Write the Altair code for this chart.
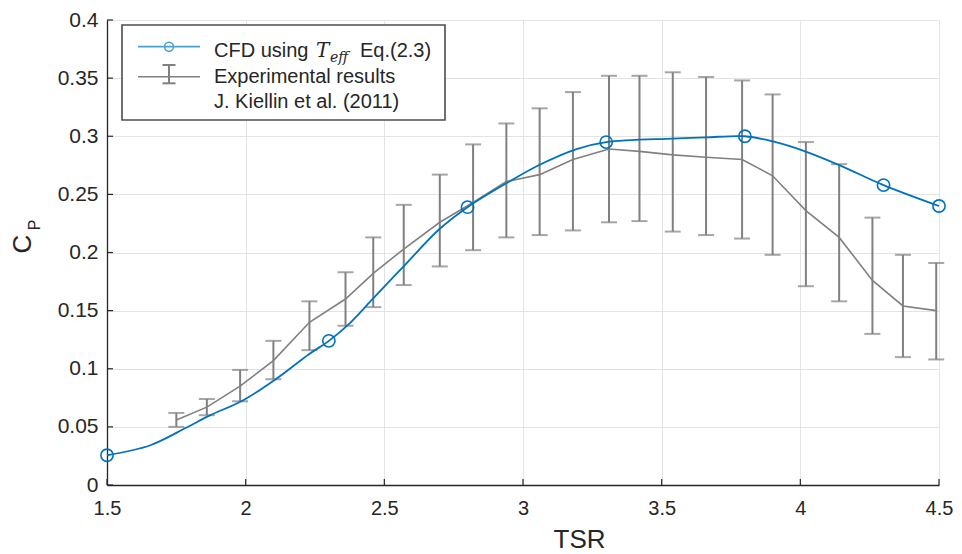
import altair as alt
import pandas as pd

# ---- data ----
cfd_tsr = [1.5, 1.654, 1.785, 1.869, 1.988, 2.108, 2.227, 2.3, 2.376, 2.454, 2.573,
           2.698, 2.8, 2.943, 3.062, 3.193, 3.3, 3.54, 3.659, 3.8, 3.898, 4.017,
           4.142, 4.3, 4.5]
cfd_cp = [0.0256, 0.0340, 0.0492, 0.0597, 0.0725, 0.091, 0.1123, 0.124, 0.1393,
          0.159, 0.189, 0.220, 0.239, 0.260, 0.2757, 0.289, 0.295, 0.298, 0.299,
          0.300, 0.2957, 0.287, 0.275, 0.258, 0.240]
marker_tsr = [1.5, 2.3, 2.8, 3.3, 3.8, 4.3, 4.5]
marker_cp = [0.0256, 0.124, 0.239, 0.295, 0.300, 0.258, 0.240]

exp_tsr = [1.75, 1.86, 1.98, 2.10, 2.23, 2.36, 2.46, 2.57, 2.70, 2.82, 2.94, 3.06,
           3.18, 3.31, 3.42, 3.54, 3.66, 3.79, 3.90, 4.02, 4.14, 4.26, 4.37, 4.49]
exp_cp = [0.056, 0.067, 0.085, 0.107, 0.140, 0.160, 0.182, 0.203, 0.226, 0.243,
          0.261, 0.267, 0.280, 0.289, 0.287, 0.284, 0.282, 0.280, 0.266, 0.236,
          0.213, 0.176, 0.154, 0.150]
exp_lo = [0.050, 0.060, 0.072, 0.091, 0.116, 0.137, 0.153, 0.172, 0.188, 0.202,
          0.213, 0.215, 0.219, 0.226, 0.227, 0.218, 0.215, 0.212, 0.198, 0.171,
          0.158, 0.130, 0.110, 0.108]
exp_hi = [0.062, 0.074, 0.099, 0.124, 0.158, 0.183, 0.213, 0.241, 0.267, 0.293,
          0.311, 0.324, 0.338, 0.352, 0.352, 0.355, 0.351, 0.348, 0.336, 0.295,
          0.276, 0.230, 0.198, 0.191]

x_ticks = [1.5, 2, 2.5, 3, 3.5, 4, 4.5]
y_ticks = [0, 0.05, 0.1, 0.15, 0.2, 0.25, 0.3, 0.35, 0.4]

legend_cfd = "CFD using"
legend_T = "T"
legend_eff = "eff"
legend_eq = "Eq.(2.3)"
legend_exp1 = "Experimental results"
legend_exp2 = "J. Kiellin et al. (2011)"

# ---- styling ----
W, H = 832, 465
BLUE = "#0072BD"
GRAY = "#808080"
DARK = "#262626"
FONT = "Liberation Sans"

cfd_df = pd.DataFrame({"tsr": cfd_tsr, "cp": cfd_cp})
mk_df = pd.DataFrame({"tsr": marker_tsr, "cp": marker_cp})
exp_df = pd.DataFrame({"tsr": exp_tsr, "cp": exp_cp, "lo": exp_lo, "hi": exp_hi})
xt_df = pd.DataFrame({"v": x_ticks})
yt_df = pd.DataFrame({"v": y_ticks})
one = pd.DataFrame({"a": [0]})

xs = alt.Scale(domain=[1.5, 4.5], nice=False, zero=False)
ys = alt.Scale(domain=[0, 0.4], nice=False, zero=True)

x_axis = alt.Axis(values=x_ticks, format=".1~f", title="TSR", ticks=False,
                  grid=True, labelPadding=13, labelFlush=False, labelFontSize=20,
                  titleX=472, titleY=62,
                  titleAnchor="start", titleAlign="center", titleBaseline="alphabetic")
y_axis = alt.Axis(values=y_ticks, format=".2~f", title=None, ticks=False,
                  grid=True, labelPadding=9, labelFlush=False, labelFontSize=21)

exp_line = alt.Chart(exp_df).mark_line(color=GRAY, strokeWidth=1.6).encode(
    x=alt.X("tsr:Q", scale=xs, axis=x_axis),
    y=alt.Y("cp:Q", scale=ys, axis=y_axis),
)
err_rule = alt.Chart(exp_df).mark_rule(color=GRAY, strokeWidth=2).encode(
    x=alt.X("tsr:Q", scale=xs), y=alt.Y("lo:Q", scale=ys), y2="hi:Q")
cap_lo = alt.Chart(exp_df).mark_tick(color=GRAY, size=16, thickness=2,
                                     orient="horizontal").encode(
    x=alt.X("tsr:Q", scale=xs), y=alt.Y("lo:Q", scale=ys))
cap_hi = alt.Chart(exp_df).mark_tick(color=GRAY, size=16, thickness=2,
                                     orient="horizontal").encode(
    x=alt.X("tsr:Q", scale=xs), y=alt.Y("hi:Q", scale=ys))

cfd_line = alt.Chart(cfd_df).mark_line(color=BLUE, strokeWidth=1.8,
                                       interpolate="catmull-rom").encode(
    x=alt.X("tsr:Q", scale=xs), y=alt.Y("cp:Q", scale=ys))
cfd_pts = alt.Chart(mk_df).mark_point(shape="circle", filled=False, color=BLUE,
                                      size=150, strokeWidth=1.6, opacity=1).encode(
    x=alt.X("tsr:Q", scale=xs), y=alt.Y("cp:Q", scale=ys))

# inward ticks (MATLAB style)
xtick = alt.Chart(xt_df).mark_rule(color=DARK, strokeWidth=1.2).encode(
    x=alt.X("v:Q", scale=xs), y=alt.value(H), y2=alt.value(H - 6))
ytick = alt.Chart(yt_df).mark_rule(color=DARK, strokeWidth=1.2).encode(
    y=alt.Y("v:Q", scale=ys), x=alt.value(0), x2=alt.value(6))

# legend (pixel offsets relative to the plot's top-left corner)
OY = -4
box = alt.Chart(one).mark_rect(fill="white", stroke="#4d4d4d", strokeWidth=1.6).encode(
    x=alt.value(15), x2=alt.value(338), y=alt.value(9 + OY), y2=alt.value(104 + OY))
leg_l1 = alt.Chart(one).mark_rule(color="#4aa0cc", strokeWidth=1.8).encode(
    x=alt.value(31), x2=alt.value(93), y=alt.value(30.7 + OY))
leg_m1 = alt.Chart(one).mark_point(shape="circle", filled=False, color="#4aa0cc",
                                   size=80, strokeWidth=1.5, opacity=1).encode(
    x=alt.value(62), y=alt.value(30.7 + OY))
leg_l2 = alt.Chart(one).mark_rule(color=GRAY, strokeWidth=1.6).encode(
    x=alt.value(31), x2=alt.value(93), y=alt.value(60.7 + OY))
leg_v2 = alt.Chart(one).mark_rule(color=GRAY, strokeWidth=2).encode(
    x=alt.value(62), y=alt.value(49 + OY), y2=alt.value(67.3 + OY))
leg_c2a = alt.Chart(one).mark_rule(color=GRAY, strokeWidth=2).encode(
    x=alt.value(55.5), x2=alt.value(68.5), y=alt.value(49 + OY))
leg_c2b = alt.Chart(one).mark_rule(color=GRAY, strokeWidth=2).encode(
    x=alt.value(55.5), x2=alt.value(68.5), y=alt.value(67.3 + OY))


def txt(s, x, y, size=20, font=FONT, style="normal"):
    return alt.Chart(one).mark_text(text=s, align="left", baseline="alphabetic",
                                    font=font, fontSize=size, fontStyle=style,
                                    color=DARK).encode(x=alt.value(x), y=alt.value(y + OY))


leg_texts = [
    txt(legend_cfd, 107, 40.7),
    txt(legend_T, 209, 40.7, size=20, font="DejaVu Serif", style="italic"),
    txt(legend_eff, 223, 45.5, size=14, font="DejaVu Serif", style="italic"),
    txt(legend_eq, 253, 40.7),
    txt(legend_exp1, 107, 67.3),
    txt(legend_exp2, 107, 92),
]

# y-axis title C_P
ytitle_c = alt.Chart(one).mark_text(text="C", angle=270, align="center",
                                    baseline="middle", font=FONT, fontSize=26,
                                    color=DARK).encode(x=alt.value(-84), y=alt.value(224))
ytitle_p = alt.Chart(one).mark_text(text="P", angle=270, align="center",
                                    baseline="middle", font=FONT, fontSize=16,
                                    color=DARK).encode(x=alt.value(-72), y=alt.value(205))

chart = alt.layer(
    exp_line, err_rule, cap_lo, cap_hi, cfd_line, cfd_pts, xtick, ytick,
    box, leg_l1, leg_m1, leg_l2, leg_v2, leg_c2a, leg_c2b, *leg_texts,
    ytitle_c, ytitle_p,
).properties(
    width=W, height=H,
    autosize=alt.AutoSizeParams(type="none"),
    padding={"left": 99, "top": 12, "right": 15, "bottom": 69},
).configure_view(stroke=None).configure_axis(
    domainColor=DARK, domainWidth=1.3, gridColor="#e3e3e3", gridWidth=1,
    labelFont=FONT, labelColor=DARK,
    titleFont=FONT, titleFontSize=26, titleFontWeight="normal", titleColor=DARK,
)

chart.save("out.html", embed_options={"renderer": "svg", "actions": False})
